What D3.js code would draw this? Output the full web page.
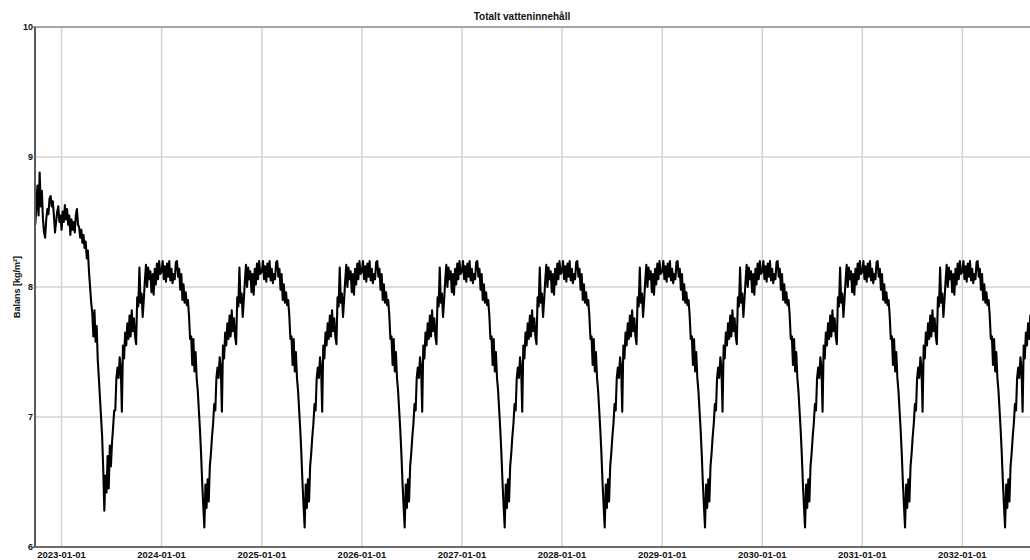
<!DOCTYPE html>
<html>
<head>
<meta charset="utf-8">
<script src="https://cdn.jsdelivr.net/npm/d3@7"></script>
<style>
  html, body { margin: 0; padding: 0; background: #ffffff; }
  svg { display: block; }
  text { font-family: "Liberation Sans", Arial, sans-serif; font-weight: bold; fill: #111; }
</style>
</head>
<body>
<svg id="chart" width="1030" height="560"></svg>
<script>
// ---------------- DATA ----------------
const chartTitle = "Totalt vatteninnehåll";
const yAxisTitle = "Balans [kg/m²]";
const yTicks = [6, 7, 8, 9, 10];
const xTickLabels = ["2023-01-01", "2024-01-01", "2025-01-01", "2026-01-01", "2027-01-01",
                     "2028-01-01", "2029-01-01", "2030-01-01", "2031-01-01", "2032-01-01"];
const domainStart = "2022-09-26";
const domainEnd = "2032-09-04";

// Initial transient: values every 4 days starting 2022-09-27
const firstStart = "2022-09-27";
const firstValues = [
  8.48, 8.62, 8.78, 8.55, 8.88, 8.62, 8.74, 8.52, 8.42, 8.38, 8.52, 8.60,
  8.56, 8.68, 8.70, 8.62, 8.66, 8.55, 8.42, 8.50, 8.58, 8.62, 8.50, 8.55,
  8.44, 8.58, 8.50, 8.63, 8.52, 8.60, 8.48, 8.55, 8.40, 8.52, 8.44, 8.50,
  8.42, 8.55, 8.60, 8.48, 8.46, 8.38, 8.44, 8.34, 8.40, 8.30, 8.35, 8.22,
  8.28, 8.12, 8.00, 7.88, 7.80, 7.62, 7.82, 7.58, 7.70, 7.44, 7.30, 7.15,
  7.00, 6.85, 6.60, 6.28, 6.55, 6.42, 6.70, 6.45, 6.78, 6.62, 6.80, 6.92,
  7.05
];

// Yearly cycle shown identically each year: values every 4 days from 1 January
const cycleStep = 4;
const cycleValues = [
  8.12, 8.20, 8.06, 8.16, 8.04, 8.18, 8.08, 8.20, 8.05, 8.14, 8.03, 8.10,
  8.06, 8.19, 8.20, 8.08, 8.14, 7.98, 8.10, 7.90, 8.02, 7.88, 7.96, 7.86,
  7.90, 7.78, 7.60, 7.62, 7.40, 7.60, 7.35, 7.50, 7.30, 7.20, 7.05, 6.90,
  6.72, 6.50, 6.32, 6.15, 6.48, 6.30, 6.52, 6.35, 6.62, 6.72, 6.85, 6.95,
  7.10, 7.05, 7.30, 7.38, 7.30, 7.46, 7.38, 7.04, 7.55, 7.45, 7.65, 7.55,
  7.72, 7.60, 7.78, 7.62, 7.82, 7.66, 7.76, 7.62, 7.56, 7.92, 7.85, 8.15,
  7.88, 7.95, 7.77, 7.90, 8.05, 8.17, 8.00, 8.15, 8.06, 8.12, 7.96, 8.10,
  7.94, 8.14, 8.02, 8.18, 8.06, 8.20, 8.10
];
const cycleYears = [2023, 2024, 2025, 2026, 2027, 2028, 2029, 2030, 2031, 2032];

// ---------------- BUILD SERIES ----------------
const parse = d3.utcParse("%Y-%m-%d");
const DAY = 86400000;
const series = [];
const fs0 = parse(firstStart);
firstValues.forEach((v, i) => series.push({ date: new Date(fs0.getTime() + i * cycleStep * DAY), value: v }));
const firstEnd = series[series.length - 1].date;
cycleYears.forEach(yr => {
  const jan1 = Date.UTC(yr, 0, 1);
  cycleValues.forEach((v, i) => {
    const dt = new Date(jan1 + i * cycleStep * DAY);
    if (dt > firstEnd) series.push({ date: dt, value: v });
  });
});

// ---------------- CHART ----------------
const W = 1030, H = 560;
const mLeft = 35, mRight = 1030, mTop = 27, mBottom = 547;
const svg = d3.select("#chart");

const x = d3.scaleUtc().domain([parse(domainStart), parse(domainEnd)]).range([mLeft, mRight]);
const y = d3.scaleLinear().domain([6, 10]).range([mBottom, mTop]);

svg.append("rect").attr("width", W).attr("height", H).attr("fill", "#fff");

// grid
const xTickDates = xTickLabels.map(parse);
svg.append("g").selectAll("line").data(xTickDates).join("line")
  .attr("x1", d => x(d)).attr("x2", d => x(d))
  .attr("y1", mTop).attr("y2", mBottom)
  .attr("stroke", "#d2d2d2").attr("stroke-width", 1.5);
svg.append("g").selectAll("line").data(yTicks.filter(t => t > 6 && t < 10)).join("line")
  .attr("x1", mLeft).attr("x2", mRight)
  .attr("y1", d => y(d)).attr("y2", d => y(d))
  .attr("stroke", "#d2d2d2").attr("stroke-width", 1.5);

// frame
svg.append("line").attr("x1", mLeft - 2).attr("x2", mRight).attr("y1", y(10)).attr("y2", y(10))
  .attr("stroke", "#a4a4a4").attr("stroke-width", 2);
svg.append("line").attr("x1", mLeft).attr("x2", mLeft).attr("y1", mTop).attr("y2", mBottom)
  .attr("stroke", "#5a5a5a").attr("stroke-width", 2);
svg.append("line").attr("x1", mLeft - 2).attr("x2", mRight).attr("y1", mBottom).attr("y2", mBottom)
  .attr("stroke", "#6a6a6a").attr("stroke-width", 2);

// line
svg.append("clipPath").attr("id", "clip").append("rect")
  .attr("x", mLeft + 1).attr("y", mTop).attr("width", mRight - mLeft).attr("height", mBottom - mTop);
const line = d3.line().x(d => x(d.date)).y(d => y(d.value));
svg.append("path").datum(series)
  .attr("clip-path", "url(#clip)")
  .attr("fill", "none").attr("stroke", "#000").attr("stroke-width", 2.1)
  .attr("stroke-linejoin", "round")
  .attr("d", line);

// y tick labels
svg.append("g").selectAll("text").data(yTicks).join("text")
  .attr("x", 33).attr("y", d => y(d)).attr("dy", "0.35em")
  .attr("text-anchor", "end").attr("font-size", 9).text(d => d);

// x tick labels
svg.append("g").selectAll("text").data(xTickDates).join("text")
  .attr("x", d => x(d)).attr("y", 557.5)
  .attr("text-anchor", "middle").attr("font-size", 9.5)
  .text(d => d3.utcFormat("%Y-%m-%d")(d));

// titles
svg.append("text").attr("x", 522).attr("y", 20).attr("text-anchor", "middle")
  .attr("font-size", 10).text(chartTitle);
svg.append("text").attr("transform", "translate(19.5,287) rotate(-90)")
  .attr("text-anchor", "middle").attr("font-size", 9).text(yAxisTitle);
</script>
</body>
</html>
